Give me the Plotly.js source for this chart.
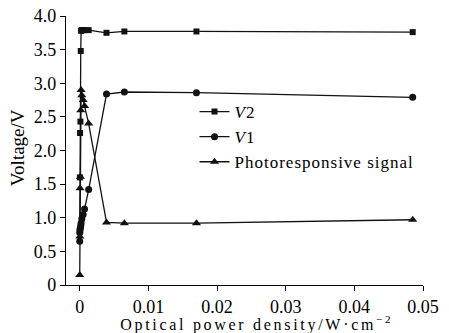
<!DOCTYPE html>
<html><head><meta charset="utf-8">
<script src="https://cdn.plot.ly/plotly-3.0.1.min.js"></script>
<style>body{margin:0;background:#fff}#c{width:449px;height:333px}
.xtitleann text{letter-spacing:2.7px}
.legendtext{letter-spacing:1px}</style>
</head><body><div id="c"></div>
<script>
const powerDensity = [0, 0.00002, 0.00005, 0.0001, 0.00015, 0.0002, 0.0003, 0.0005, 0.0007, 0.0013, 0.0039, 0.0065, 0.0170, 0.0485];
const v2 = [0.80, 1.60, 2.26, 2.43, 3.48, 3.78, 3.79, 3.79, 3.79, 3.79, 3.75, 3.77, 3.77, 3.76];
const v1 = [0.65, 0.78, 0.82, 0.85, 0.88, 0.92, 0.98, 1.05, 1.13, 1.42, 2.84, 2.87, 2.86, 2.79];
const photo = [0.15, 0.72, 1.44, 1.61, 2.60, 2.90, 2.82, 2.75, 2.66, 2.40, 0.93, 0.92, 0.92, 0.97];
const xTickVals = [0, 0.01, 0.02, 0.03, 0.04, 0.05];
const xTickText = ["0", "0.01", "0.02", "0.03", "0.04", "0.05"];
const yTickVals = [0, 0.5, 1, 1.5, 2, 2.5, 3, 3.5, 4];
const yTickText = ["0", "0.5", "1.0", "1.5", "2.0", "2.5", "3.0", "3.5", "4.0"];
const xTitle = "Optical power density/W·cm<sup>−2</sup>";
const yTitle = "Voltage/V";

const fam = "Liberation Serif, Times New Roman, serif";
const traces = [
  {x: powerDensity, y: v2, name: "<i>V</i>2", mode: "lines+markers",
   line: {color: "#111", width: 1.3}, marker: {symbol: "square", size: 6, color: "#111"}},
  {x: powerDensity, y: v1, name: "<i>V</i>1", mode: "lines+markers",
   line: {color: "#111", width: 1.3}, marker: {symbol: "circle", size: 7, color: "#111"}},
  {x: powerDensity, y: photo, name: "Photoresponsive signal", mode: "lines+markers",
   line: {color: "#111", width: 1.3}, marker: {symbol: "triangle-up", size: 8, color: "#111"}}
];
const layout = {
  width: 449, height: 333,
  margin: {l: 66, r: 26, t: 16, b: 48},
  paper_bgcolor: "#fff", plot_bgcolor: "#fff",
  font: {family: fam, color: "#000", size: 16},
  showlegend: true,
  legend: {x: 0.36, y: 0.71, xanchor: "left", yanchor: "top", bgcolor: "rgba(0,0,0,0)",
           font: {family: fam, size: 17, color: "#000"}, itemwidth: 30, tracegroupgap: 0},
  xaxis: {range: [-0.002, 0.05], tickvals: xTickVals, ticktext: xTickText,
          showgrid: false, zeroline: false, showline: true, linecolor: "#000", linewidth: 1.2,
          ticks: "outside", ticklen: 5, tickcolor: "#000", tickfont: {family: fam, size: 18, color: "#000"}},
  yaxis: {range: [0, 4], tickvals: yTickVals, ticktext: yTickText,
          showgrid: false, zeroline: false, showline: true, linecolor: "#000", linewidth: 1.2,
          ticks: "outside", ticklen: 5, tickcolor: "#000", tickfont: {family: fam, size: 18, color: "#000"}},
  annotations: [
    {text: xTitle, xref: "paper", yref: "paper", x: 0.535, y: -0.142, xanchor: "center", yanchor: "middle",
     showarrow: false, font: {family: fam, size: 16, color: "#000"}},
    {text: yTitle, xref: "paper", yref: "paper", x: -0.137, y: 0.509, xanchor: "center", yanchor: "middle",
     textangle: -90, showarrow: false, font: {family: fam, size: 19, color: "#000"}}
  ]
};
Plotly.newPlot("c", traces, layout, {displayModeBar: false, staticPlot: true}).then(function () {
  const anns = document.querySelectorAll(".annotation");
  if (anns.length) anns[0].classList.add("xtitleann");
});
</script></body></html>
